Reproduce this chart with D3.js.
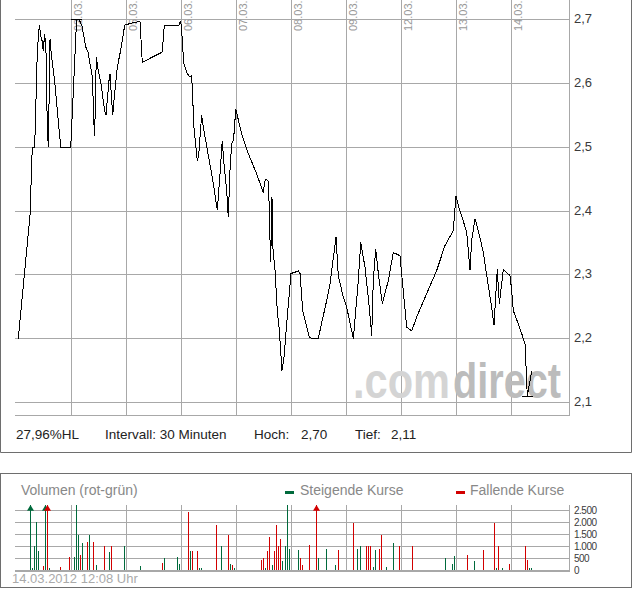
<!DOCTYPE html>
<html><head><meta charset="utf-8">
<script src="https://cdn.jsdelivr.net/npm/d3@7"></script>
<style>
html,body{margin:0;padding:0;background:#fff;}
svg{display:block;font-family:"Liberation Sans",Arial,sans-serif;}
</style></head><body>
<svg id="c" width="632" height="590"></svg>
<script>
// ---------- data ----------
const dates = ["01.03.","02.03.","05.03.","06.03.","07.03.","08.03.","09.03.","12.03.","13.03.","14.03."];
const priceTicks = [2.1,2.2,2.3,2.4,2.5,2.6,2.7];
const volumeTicks = [0,500,1000,1500,2000,2500];
const intervalLabel = "Intervall: 30 Minuten";
const timestampLabel = "14.03.2012 12:08 Uhr";
const watermarkParts = [".com","direct"];

const priceTimes = [
"01.03. 07:50","01.03. 10:30","01.03. 11:01","01.03. 11:34","01.03. 12:10","01.03. 12:37","01.03. 12:56","01.03. 13:14","01.03. 13:31","01.03. 13:50","01.03. 14:08","01.03. 14:26","01.03. 14:40","01.03. 15:03","01.03. 15:20","01.03. 16:07","01.03. 17:29","01.03. 19:45",
"02.03. 07:45","02.03. 08:35","02.03. 09:10","02.03. 09:49","02.03. 10:40","02.03. 11:11","02.03. 12:10","02.03. 12:33","02.03. 12:42","02.03. 13:04","02.03. 13:27","02.03. 14:04","02.03. 14:59","02.03. 15:16","02.03. 15:57","02.03. 16:11","02.03. 16:25","02.03. 16:48","02.03. 17:05","02.03. 17:50","02.03. 18:45","02.03. 19:31",
"05.03. 08:23","05.03. 10:30","05.03. 11:01","05.03. 15:34","05.03. 16:01","05.03. 19:22","05.03. 19:45","05.03. 19:58",
"06.03. 07:56","06.03. 08:23","06.03. 08:45","06.03. 09:22","06.03. 09:45","06.03. 10:16","06.03. 11:01","06.03. 11:20","06.03. 11:48","06.03. 12:01","06.03. 12:15","06.03. 14:40","06.03. 15:34","06.03. 16:11","06.03. 16:42","06.03. 17:05","06.03. 17:42","06.03. 18:04","06.03. 18:27","06.03. 18:50","06.03. 19:12","06.03. 19:26","06.03. 19:45",
"07.03. 08:37","07.03. 10:07","07.03. 12:01","07.03. 13:31","07.03. 13:58","07.03. 14:40","07.03. 14:49","07.03. 15:03","07.03. 15:12","07.03. 15:30","07.03. 15:40","07.03. 16:11","07.03. 16:42","07.03. 17:10","07.03. 17:46","07.03. 18:14","07.03. 18:50","07.03. 19:49",
"08.03. 08:59","08.03. 09:22","08.03. 09:59","08.03. 11:29","08.03. 12:23","08.03. 13:32","08.03. 13:55","08.03. 15:26","08.03. 16:11","08.03. 17:33","08.03. 18:04","08.03. 19:12","08.03. 19:59",
"09.03. 08:59","09.03. 10:07","09.03. 10:40","09.03. 11:38","09.03. 12:23","09.03. 13:10","09.03. 13:31","09.03. 14:04","09.03. 14:40","09.03. 15:34","09.03. 16:56","09.03. 18:04","09.03. 19:35",
"12.03. 07:50","12.03. 08:37","12.03. 09:45","12.03. 10:53","12.03. 15:26","12.03. 17:19","12.03. 19:12","12.03. 19:49",
"13.03. 07:50","13.03. 09:45","13.03. 10:30","13.03. 10:53","13.03. 11:38","13.03. 12:23","13.03. 13:32","13.03. 14:18","13.03. 15:26","13.03. 15:57","13.03. 16:20","13.03. 16:42","13.03. 17:10","13.03. 17:42","13.03. 18:04","13.03. 19:35","13.03. 19:59",
"14.03. 07:50","14.03. 08:59","14.03. 09:45","14.03. 10:30","14.03. 10:53","14.03. 11:01","14.03. 11:38","14.03. 12:01"
];
const priceValues = [
2.200,2.393,2.500,2.500,2.651,2.691,2.675,2.667,2.651,2.678,2.649,2.531,2.500,2.670,2.646,2.602,2.500,2.500,
2.573,2.700,2.700,2.690,2.657,2.649,2.610,2.534,2.518,2.641,2.623,2.602,2.557,2.550,2.604,2.615,2.589,2.550,2.573,2.625,2.657,2.691,
2.694,2.697,2.633,2.649,2.691,2.691,2.698,2.683,
2.631,2.623,2.615,2.610,2.612,2.531,2.479,2.487,2.531,2.550,2.537,2.443,2.401,2.458,2.510,2.474,2.432,2.390,2.463,2.505,2.510,2.526,2.560,
2.521,2.490,2.458,2.429,2.450,2.447,2.416,2.354,2.320,2.422,2.346,2.307,2.244,2.213,2.150,2.171,2.223,2.302,
2.306,2.302,2.244,2.202,2.200,2.200,2.213,2.260,2.286,2.359,2.299,2.265,2.249,
2.200,2.291,2.351,2.312,2.265,2.205,2.291,2.341,2.302,2.255,2.291,2.335,2.330,
2.275,2.218,2.212,2.234,2.307,2.346,2.369,2.424,
2.409,2.367,2.307,2.354,2.388,2.369,2.335,2.299,2.249,2.221,2.265,2.309,2.255,2.286,2.308,2.299,2.275,
2.244,2.223,2.208,2.192,2.134,2.110,2.134,2.150
];

const volumeTimes = [
"01.03. 10:30","01.03. 11:00","01.03. 11:30","01.03. 12:00","01.03. 12:30","01.03. 13:30","01.03. 14:00","01.03. 14:30","01.03. 15:00","01.03. 17:30","01.03. 19:30",
"02.03. 08:00","02.03. 08:30","02.03. 09:00","02.03. 09:30","02.03. 10:00","02.03. 11:00","02.03. 11:30","02.03. 12:30","02.03. 13:00","02.03. 15:00","02.03. 16:00","02.03. 16:30","02.03. 19:30",
"05.03. 10:30","05.03. 15:30","05.03. 16:00","05.03. 19:00","05.03. 19:30",
"06.03. 09:00","06.03. 09:30","06.03. 10:00","06.03. 11:00","06.03. 11:30","06.03. 12:00","06.03. 15:30","06.03. 16:30","06.03. 18:00","06.03. 18:30","06.03. 19:00","06.03. 19:30",
"07.03. 13:00","07.03. 13:30","07.03. 14:00","07.03. 14:30","07.03. 15:00","07.03. 15:30","07.03. 16:00","07.03. 16:30","07.03. 17:00","07.03. 17:30","07.03. 18:00","07.03. 18:30","07.03. 19:00","07.03. 19:30",
"08.03. 09:00","08.03. 09:30","08.03. 10:00","08.03. 11:30","08.03. 13:00","08.03. 13:30","08.03. 15:30","08.03. 17:30","08.03. 18:00",
"09.03. 09:00","09.03. 10:00","09.03. 10:30","09.03. 12:00","09.03. 12:30","09.03. 13:00","09.03. 13:30","09.03. 14:00","09.03. 15:00","09.03. 15:30","09.03. 16:30","09.03. 18:00","09.03. 19:30",
"12.03. 10:00","12.03. 17:30","12.03. 19:00","12.03. 19:30",
"13.03. 10:00","13.03. 11:30","13.03. 13:30","13.03. 16:00","13.03. 16:30","13.03. 17:00","13.03. 18:00","13.03. 19:30",
"14.03. 10:30","14.03. 11:00","14.03. 11:30","14.03. 12:00"
];
const volumeValues = [
3600,110,1030,2040,820,200,3100,3300,110,150,570,
570,2720,1490,660,1160,1200,1490,1200,240,1030,780,1030,1030,
200,320,530,570,280,
2460,820,820,820,110,110,1910,1030,1490,280,240,110,
450,530,110,820,1410,240,820,1910,1030,1330,400,1030,2720,910,
870,530,240,1080,3500,530,910,240,870,
2000,910,1030,1030,1030,1030,150,870,910,1490,150,1160,1030,
1030,530,280,610,
660,400,870,2000,110,1030,110,280,
1030,450,110,110
];
const volumeDirection = [
"up","up","up","up","up","down","up","down","up","down","down",
"up","up","up","down","up","down","up","down","up","down","up","down","up",
"up","down","up","up","up",
"down","up","down","down","up","up","down","up","down","up","down","up",
"down","down","up","down","down","up","down","down","down","down","up","up","up","up",
"up","down","down","down","down","up","up","up","down",
"down","up","up","down","down","down","up","up","down","down","up","up","down",
"down","up","up","up",
"down","up","down","down","up","down","up","down",
"down","down","up","up"
];

// ---------- helpers ----------
const SLOTS_PER_DAY = 25, SESSION_START = 7*60+30, SLOT_MIN = 30;
function slotOf(ts){
  const [d,t] = ts.split(" ");
  const [h,m] = t.split(":").map(Number);
  return dates.indexOf(d)*SLOTS_PER_DAY + (h*60+m-SESSION_START)/SLOT_MIN;
}
const de = d3.formatLocale({decimal:",", thousands:".", grouping:[3], currency:["","€"]});
const fmtP1 = de.format(".1f"), fmtP2 = de.format(".2f"), fmtV = de.format(",d");
const crisp = v => Math.round(v-0.5)+0.5;

const svg = d3.select("#c");
const GRID = "#a8a8a8", BORDER = "#6e6e6e";
const left = 15, right = 569;

// ---------- scales ----------
const x = d3.scaleLinear().domain([0, dates.length*SLOTS_PER_DAY]).range([16.8, 566.8]);
const yP = d3.scaleLinear().domain([2.1, 2.7]).range([402.5, 19.5]);
const yV = d3.scaleLinear().domain([0, 2740]).range([570.5, 505]);

// ---------- panel frames ----------
const frame = svg.append("g").attr("fill","none").attr("stroke",BORDER);
frame.append("path").attr("d","M0.5,0V452.5H631.5V0");
frame.append("rect").attr("x",0.5).attr("y",473.5).attr("width",631).attr("height",114);

// ---------- price panel ----------
const pTop = 0, pBot = 415.5;
const pg = svg.append("g").attr("stroke",GRID).attr("shape-rendering","crispEdges");
priceTicks.forEach(t=>{
  pg.append("line").attr("x1",left).attr("x2",right).attr("y1",crisp(yP(t))).attr("y2",crisp(yP(t)));
});
pg.append("line").attr("x1",left).attr("x2",right+0.5).attr("y1",pBot).attr("y2",pBot);
pg.append("line").attr("x1",right+0.5).attr("x2",right+0.5).attr("y1",pTop).attr("y2",pBot);
dates.forEach((d,i)=>{
  if(i===0) return;
  const gx = crisp(x(i*SLOTS_PER_DAY));
  pg.append("line").attr("x1",gx).attr("x2",gx).attr("y1",pTop).attr("y2",pBot);
  svg.append("text").attr("transform",`translate(${gx+10},31) rotate(-90)`)
    .attr("font-size",11).attr("fill","#999").text(d);
});
// price axis labels
priceTicks.forEach(t=>{
  svg.append("text").attr("x",574).attr("y",crisp(yP(t))+3.5).attr("font-size",13)
    .attr("fill","#3a3a3a").text(fmtP1(t));
});

// watermark (two parts, vertically stretched bold type)
const wmg = svg.append("g").attr("transform","translate(353,398) scale(1,1.25)")
  .attr("font-size",40).attr("font-weight","bold");
wmg.append("text").attr("x",0).attr("y",0).attr("textLength",97)
  .attr("lengthAdjust","spacingAndGlyphs").attr("fill","#d4d4d4").text(watermarkParts[0]);
wmg.append("text").attr("x",100).attr("y",0).attr("textLength",108)
  .attr("lengthAdjust","spacingAndGlyphs").attr("fill","#bcbcbc").text(watermarkParts[1]);

// price line
const pts = priceTimes.map((t,i)=>({s:slotOf(t), v:priceValues[i]}));
svg.append("path").datum(pts)
  .attr("d", d3.line().x(d=>x(d.s)).y(d=>yP(d.v)))
  .attr("fill","none").attr("stroke","#000").attr("stroke-width",1)
  .attr("shape-rendering","crispEdges");
// high / low markers
const hi = d3.max(priceValues), lo = d3.min(priceValues);
const hiPt = pts[priceValues.indexOf(hi)], loPt = pts[priceValues.indexOf(lo)];
[hiPt, loPt].forEach(p=>{
  svg.append("line").attr("x1",x(p.s)-5.5).attr("x2",x(p.s)+5.5)
    .attr("y1",crisp(yP(p.v))).attr("y2",crisp(yP(p.v)))
    .attr("stroke","#000").attr("shape-rendering","crispEdges");
});

// info row
const info = svg.append("g").attr("font-size",13.5).attr("fill","#222");
info.append("text").attr("x",16).attr("y",439).text(fmtP2((hi-lo)/lo*100)+"%HL");
info.append("text").attr("x",105).attr("y",439).text(intervalLabel);
info.append("text").attr("x",254).attr("y",439).text("Hoch:");
info.append("text").attr("x",301).attr("y",439).text(fmtP2(hi));
info.append("text").attr("x",355).attr("y",439).text("Tief:");
info.append("text").attr("x",391).attr("y",439).text(fmtP2(lo));

// ---------- volume panel ----------
const vTop = 505;
svg.append("text").attr("x",21).attr("y",495).attr("font-size",14).attr("fill","#888").text("Volumen (rot-grün)");
const UP = "#006a3c", DOWN = "#d20000";
svg.append("rect").attr("x",285).attr("y",491).attr("width",9).attr("height",3).attr("fill",UP);
svg.append("text").attr("x",300).attr("y",495).attr("font-size",14).attr("fill","#888").text("Steigende Kurse");
svg.append("rect").attr("x",456).attr("y",491).attr("width",9).attr("height",3).attr("fill",DOWN);
svg.append("text").attr("x",470).attr("y",495).attr("font-size",14).attr("fill","#888").text("Fallende Kurse");

const vg = svg.append("g").attr("stroke",GRID).attr("shape-rendering","crispEdges");
volumeTicks.forEach(t=>{
  if(t===0) return;
  vg.append("line").attr("x1",left).attr("x2",right).attr("y1",crisp(yV(t))).attr("y2",crisp(yV(t)));
});
dates.forEach((d,i)=>{
  if(i===0) return;
  const gx = crisp(x(i*SLOTS_PER_DAY));
  vg.append("line").attr("x1",gx).attr("x2",gx).attr("y1",vTop).attr("y2",570);
});
vg.append("line").attr("x1",right+0.5).attr("x2",right+0.5).attr("y1",vTop).attr("y2",570);
volumeTicks.forEach(t=>{
  svg.append("text").attr("x",574).attr("y",crisp(yV(t))+3.5).attr("font-size",10)
    .attr("letter-spacing",-0.5).attr("fill","#3a3a3a").text(fmtV(t));
});

// bars
const vmax = yV.domain()[1];
volumeTimes.forEach((t,i)=>{
  const v = volumeValues[i], col = volumeDirection[i]==="up" ? UP : DOWN;
  const bx = Math.floor(x(slotOf(t)));
  const top = yV(Math.min(v, vmax));
  svg.append("rect").attr("x",bx).attr("width",1).attr("y",top).attr("height",570-top).attr("fill",col)
    .attr("shape-rendering","crispEdges");
  if(v > vmax){
    svg.append("path").attr("d",`M${bx+0.5},${vTop}L${bx+4},${yV(2500)}L${bx-3},${yV(2500)}Z`).attr("fill",col);
  }
});
// baseline
svg.append("line").attr("x1",left).attr("x2",right+1).attr("y1",571).attr("y2",571)
  .attr("stroke",GRID).attr("stroke-width",2).attr("shape-rendering","crispEdges");

svg.append("text").attr("x",12).attr("y",582.5).attr("font-size",13).attr("fill","#aaa").text(timestampLabel);
</script>
</body></html>
